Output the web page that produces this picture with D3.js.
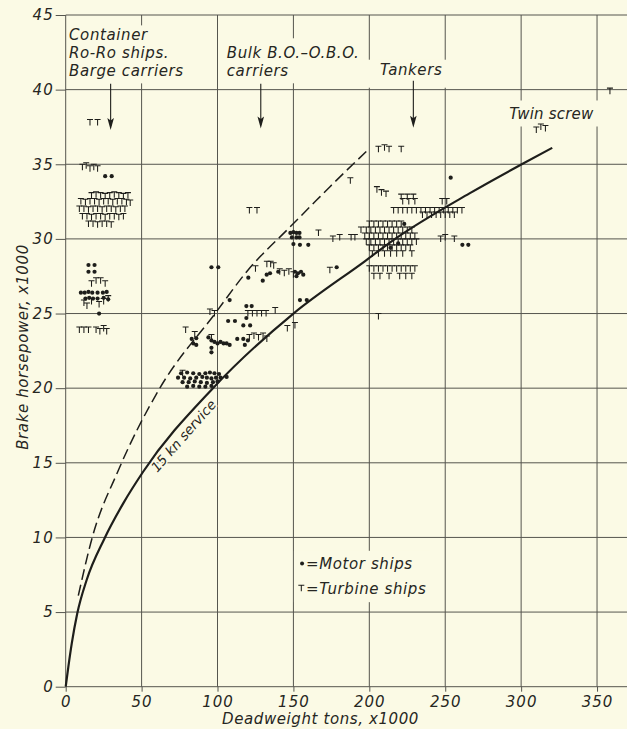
<!DOCTYPE html>
<html>
<head>
<meta charset="utf-8">
<script src="https://cdn.jsdelivr.net/npm/d3@7"></script>
<style>
  html, body { margin: 0; padding: 0; background: #fbfae5; }
  svg { display: block; }
  text { font-family: "DejaVu Sans", sans-serif; font-style: italic; fill: #262622; }
</style>
</head>
<body>
<svg id="chart" width="627" height="729"></svg>
<script>
// Axis ticks (deadweight tons x1000, brake horsepower x1000)
const xTicks = [0, 50, 100, 150, 200, 250, 300, 350];
const yTicks = [0, 5, 10, 15, 20, 25, 30, 35, 40, 45];

// Motor ships: [deadweight, bhp]
const motorShips = [
  // container / ro-ro / barge carriers
  [26, 34.2], [30.3, 34.2],
  [15, 28.25], [19, 28.25], [15, 27.8], [19, 27.8],
  [10, 26.4], [12.5, 26.4], [15, 26.45], [17.5, 26.4], [21, 26.4], [24.5, 26.4], [27, 26.45],
  [13, 26.0], [15.5, 26.05], [18, 26.0], [21, 26.0], [25, 26.05], [28, 25.95],
  [22, 25.0],
  // bulk, O.B.O. carriers
  [96, 28.1], [100.5, 28.1],
  [108, 25.9],
  [83, 23.3], [86, 23.35], [84, 23.0], [86, 22.9],
  [94, 23.4], [96, 23.2], [98, 23.1], [100, 23.0], [102, 23.1], [104, 23.0], [106, 23.0], [108, 22.9],
  [96, 22.7], [96, 22.4],
  [76, 21.0], [80, 21.05], [84, 21.0], [88, 20.95], [92, 21.0], [95, 21.05], [98, 21.0], [101, 20.95],
  [74, 20.7], [78, 20.7], [82, 20.65], [86, 20.7], [90, 20.75], [93, 20.7], [96, 20.65], [99, 20.7], [102, 20.7], [106, 20.75],
  [77, 20.4], [81, 20.4], [85, 20.45], [89, 20.4], [93, 20.35], [97, 20.4], [100, 20.45],
  [80, 20.1], [84, 20.15], [88, 20.1], [92, 20.1], [96, 20.15],
  [107, 24.5], [111.5, 24.5],
  [119, 25.5], [122.5, 25.5],
  [119, 24.7], [117, 24.2], [121.5, 24.2],
  [113, 23.3], [117, 23.3], [120, 23.2], [118, 22.9],
  [120.3, 27.4], [129.8, 27.2], [132.4, 27.6], [134.6, 27.7], [140, 27.8],
  [151, 27.8], [153, 27.7], [155, 27.8], [156.5, 27.6], [152, 27.5],
  [154.3, 25.9], [158.8, 25.9],
  [148, 30.4], [150, 30.45], [152, 30.4], [154, 30.4], [149, 30.1], [152, 30.1], [154, 30.1],
  [150, 29.65], [154.3, 29.6], [159.8, 29.6],
  [178.5, 28.1],
  // tankers
  [253.6, 34.1], [223, 31.0], [219, 29.7], [214, 29.4],
  [261.3, 29.6], [265.2, 29.6]
];

// Turbine ships: [deadweight, bhp]
const turbineShips = [
  // container / ro-ro / barge carriers
  [16, 37.8], [21, 37.8],
  [11, 34.8], [13.5, 34.9], [16, 34.7], [18.5, 34.8], [21, 34.7],
  [17, 32.9], [20, 32.95], [23, 32.9], [26, 32.85], [29, 32.9], [32, 32.95], [35, 32.9], [38, 32.85], [41, 32.9],
  [10, 32.5], [13, 32.45], [16, 32.5], [19, 32.5], [22, 32.45], [25, 32.5], [28, 32.5], [31, 32.45], [34, 32.5], [37, 32.5], [40, 32.45], [42.5, 32.4],
  [9, 32.0], [12, 32.0], [15, 31.95], [18, 32.0], [21, 32.0], [24, 31.95], [27, 32.0], [30, 32.0], [33, 31.95], [36, 32.0], [39, 32.0],
  [11, 31.5], [14, 31.5], [17, 31.45], [20, 31.5], [23, 31.5], [26, 31.45], [29, 31.5], [32, 31.5], [35, 31.45], [38, 31.5],
  [15, 31.0], [18, 31.0], [21, 30.95], [24, 31.0], [27, 31.0], [30, 30.95],
  [17, 27.0], [20, 27.2], [23, 27.2], [26, 27.0],
  [12, 25.7], [14, 25.5], [17, 25.8], [22, 25.6], [25, 25.8], [28, 26.0],
  [9, 23.9], [12, 23.9], [15, 23.9], [20, 23.9], [22.5, 23.8], [25, 24.0], [27, 23.8],
  // bulk, O.B.O. carriers
  [79, 23.9], [95, 25.1], [98, 25.0], [77, 21.0], [96, 23.4], [85, 23.6],
  [121, 31.9], [126, 31.9],
  [125, 28.0], [132.5, 28.3], [135, 28.3], [137, 28.2],
  [141, 27.8], [144, 27.7], [147, 27.8], [150, 27.6], [174, 27.9],
  [120, 25.0], [123, 25.0], [126, 25.0], [129, 25.0], [132, 25.0], [138, 25.2],
  [121, 23.4], [124, 23.5], [127, 23.4], [130, 23.5], [132.5, 23.3],
  [146, 24.0], [151, 24.2],
  [166.5, 30.4], [176, 30.0], [180.5, 30.1], [188, 30.1], [190.5, 30.1], [194.5, 30.6],
  [187.5, 33.9],
  // tankers
  [206, 36.0], [210, 36.1], [213, 36.0], [221, 36.0],
  [205, 33.3], [208, 33.1], [211, 33.0],
  [221, 32.8], [225, 32.8], [229, 32.8], [222, 32.5], [226, 32.5], [230, 32.5],
  [248, 32.5], [251, 32.5],
  [216, 31.9], [219, 31.9], [222, 31.9], [225, 31.9], [228, 31.9], [231, 31.9], [234, 31.9], [237, 31.9],
  [240, 31.9], [243, 31.9], [246, 31.9], [249, 31.9], [252, 31.9], [255, 31.9], [258, 31.9], [261, 31.9],
  [235, 31.6], [238, 31.6], [241, 31.6], [244, 31.6], [247, 31.6], [250, 31.6], [253, 31.6], [256, 31.6],
  [200, 31.0], [203, 31.0], [206, 31.0], [209, 31.0], [212, 31.0], [215, 31.0], [218, 31.0], [221, 31.0],
  [198, 30.6], [201, 30.6], [204, 30.6], [207, 30.6], [210, 30.6], [213, 30.6], [216, 30.6], [219, 30.6], [222, 30.6], [225, 30.6], [228, 30.6],
  [197, 30.2], [200, 30.2], [203, 30.2], [206, 30.2], [209, 30.2], [212, 30.2], [215, 30.2], [218, 30.2], [221, 30.2], [224, 30.2], [227, 30.2], [230, 30.2],
  [198, 29.8], [201, 29.8], [204, 29.8], [207, 29.8], [210, 29.8], [213, 29.8], [216, 29.8], [219, 29.8], [222, 29.8], [225, 29.8], [228, 29.8], [231, 29.8],
  [200, 29.4], [203, 29.4], [206, 29.4], [209, 29.4], [212, 29.4], [215, 29.4], [218, 29.4], [221, 29.4], [224, 29.4], [227, 29.4],
  [202, 29.0], [206, 29.0], [210, 29.0], [214, 29.0], [218, 29.0], [222, 29.0], [228, 29.0],
  [200, 28.0], [203, 28.0], [206, 28.0], [209, 28.0], [212, 28.0], [215, 28.0], [218, 28.0], [221, 28.0], [224, 28.0], [227, 28.0], [230, 28.0],
  [203, 27.5], [207, 27.5], [213, 27.5], [220, 27.5], [224, 27.5], [228, 27.5],
  [206, 24.8],
  [247, 30.0], [250, 30.1], [256, 30.0],
  // twin screw
  [310, 37.3], [313, 37.5], [316, 37.4],
  [358.5, 39.9]
];

// 15 kn service curve (solid) and upper limit curve (dashed)
const serviceCurve = [
  [0, 0], [1.7, 1.3], [4, 2.9], [7.6, 4.9], [13.8, 7.15], [25.4, 9.9], [38, 12.3], [51, 14.4],
  [97, 20], [150, 25], [197, 28.5], [217, 30], [266, 33.05], [300.4, 35], [320.5, 36.1]
];
const upperCurve = [
  [8.3, 6.1], [17.5, 10], [34.7, 14.5], [62, 20], [98.4, 25], [120, 27.9],
  [147.8, 30.8], [165.3, 32.6], [174.1, 33.5], [198.5, 35.9]
];

const W = 627, H = 729;
const BG = "#fbfae5";
const INK = "#1e1e1b";
const GRID = "#55554e";
const FONT = "'DejaVu Sans', sans-serif";

const x = d3.scaleLinear().domain([0, 370]).range([65.7, 627.4]);
const y = d3.scaleLinear().domain([0, 45]).range([686.7, 15]);

const svg = d3.select("#chart");
svg.append("rect").attr("width", W).attr("height", H).attr("fill", BG);

// grid
const grid = svg.append("g").attr("stroke", GRID).attr("stroke-width", 1).attr("fill", "none");
grid.selectAll("line.v").data(xTicks).join("line").attr("class", "v")
  .attr("x1", d => x(d)).attr("x2", d => x(d)).attr("y1", y(0)).attr("y2", y(45));
grid.selectAll("line.h").data(yTicks).join("line").attr("class", "h")
  .attr("x1", x(0)).attr("x2", W).attr("y1", d => y(d)).attr("y2", d => y(d));

// axes
const styleAxis = g => {
  g.attr("font-family", null).attr("font-size", null);
  g.select(".domain").remove();
  g.selectAll(".tick line").attr("stroke", GRID);
  g.selectAll(".tick text")
    .attr("fill", "#262622")
    .style("font-family", FONT).style("font-style", "italic")
    .style("font-size", "15px").style("letter-spacing", "1px");
};
svg.append("g").attr("transform", `translate(${x(0)},0)`)
  .call(d3.axisLeft(y).tickValues(yTicks).tickSize(10).tickPadding(2).tickFormat(d3.format("d")))
  .call(styleAxis);
svg.append("g").attr("transform", `translate(0,${y(0)})`)
  .call(d3.axisBottom(x).tickValues(xTicks).tickSize(5).tickPadding(5).tickFormat(d3.format("d")))
  .call(styleAxis);

// axis titles
svg.append("text").attr("x", 222).attr("y", 724)
  .style("font-size", "15px").style("letter-spacing", "0.6px")
  .text("Deadweight tons, x1000");
svg.append("text").attr("transform", "translate(28,347) rotate(-90)").attr("text-anchor", "middle")
  .style("font-size", "15px").style("letter-spacing", "0.6px")
  .text("Brake horsepower, x1000");

// text block with a paper-coloured backing that interrupts the grid
function labelBlock(px, py, lines, pad, spacing) {
  const g = svg.append("g");
  const t = g.append("text").attr("x", px).attr("y", py)
    .style("font-size", "15px").style("letter-spacing", (spacing == null ? 0.6 : spacing) + "px");
  lines.forEach((s, i) => t.append("tspan").attr("x", px).attr("dy", i ? 18 : 0).text(s));
  const b = t.node().getBBox();
  g.insert("rect", "text")
    .attr("x", b.x - pad[3]).attr("y", b.y - pad[0])
    .attr("width", b.width + pad[1] + pad[3]).attr("height", b.height + pad[0] + pad[2])
    .attr("fill", BG);
  return g;
}

labelBlock(x(2.2), y(43.3), ["Container", "Ro-Ro ships.", "Barge carriers"], [1, 4, 3, 2]);
labelBlock(x(106.1), y(42.1), ["Bulk B.O.\u2013O.B.O.", "carriers"], [6, 4, 3, 4]);
labelBlock(x(207), y(41.0), ["Tankers"], [1, 4, 9, 12]);
labelBlock(x(292.1), y(38.0), ["Twin screw"], [5, 4, 3, 4], 0.2);

// arrows pointing at each ship group
const arrows = [
  { x: 29.6, top: 40.4, tip: 37.3 },
  { x: 128.5, top: 40.4, tip: 37.4 },
  { x: 229, top: 40.6, tip: 37.45 }
];
const ag = svg.append("g").attr("fill", INK).attr("stroke", INK);
arrows.forEach(a => {
  const ax = x(a.x), ty = y(a.tip);
  ag.append("line").attr("x1", ax).attr("x2", ax).attr("y1", y(a.top)).attr("y2", ty - 4).attr("stroke-width", 1.1);
  ag.append("path").attr("stroke", "none")
    .attr("d", `M${ax - 3.3},${ty - 12}L${ax},${ty - 9.5}L${ax + 3.3},${ty - 12}L${ax},${ty}Z`);
});

// curves
const line = d3.line().x(d => x(d[0])).y(d => y(d[1])).curve(d3.curveMonotoneX);
svg.append("path").datum(upperCurve).attr("d", line)
  .attr("fill", "none").attr("stroke", INK).attr("stroke-width", 1.5).attr("stroke-dasharray", "11,5");
svg.append("path").datum(serviceCurve).attr("d", line)
  .attr("fill", "none").attr("stroke", INK).attr("stroke-width", 2.2);

// curve label, set just below the solid curve
svg.append("text").attr("transform", "translate(187,439) rotate(-48.7)").attr("text-anchor", "middle")
  .style("font-size", "13.5px")
  .attr("stroke", BG).attr("stroke-width", 3).style("paint-order", "stroke")
  .text("15 kn service");

// markers
const tPath = "M-3,-3H3M0,-3V3";
svg.append("g").attr("fill", "none").attr("stroke", INK).attr("stroke-width", 1.05)
  .selectAll("path").data(turbineShips).join("path")
  .attr("transform", d => `translate(${x(d[0])},${y(d[1])})`).attr("d", tPath);
svg.append("g").attr("fill", INK)
  .selectAll("circle").data(motorShips).join("circle")
  .attr("cx", d => x(d[0])).attr("cy", d => y(d[1])).attr("r", 2.1);

// legend
const lg = svg.append("g");
const legendRows = [
  { text: "=Motor ships", base: 7.9 },
  { text: "=Turbine ships", base: 6.2 }
];
const lt = lg.append("g");
legendRows.forEach(r => {
  lt.append("text").attr("x", x(158.3)).attr("y", y(r.base))
    .style("font-size", "15px").style("letter-spacing", "0.6px").text(r.text);
});
const lb = lt.node().getBBox();
lg.insert("rect", "g").attr("x", x(154.3) - 6).attr("y", lb.y - 4)
  .attr("width", lb.x + lb.width - x(154.3) + 10).attr("height", lb.height + 8).attr("fill", BG);
lg.append("circle").attr("cx", x(155.7)).attr("cy", y(8.25)).attr("r", 2).attr("fill", INK);
lg.append("path").attr("transform", `translate(${x(155.2)},${y(6.6)})`).attr("d", tPath)
  .attr("fill", "none").attr("stroke", INK).attr("stroke-width", 1.05);
</script>
</body>
</html>
